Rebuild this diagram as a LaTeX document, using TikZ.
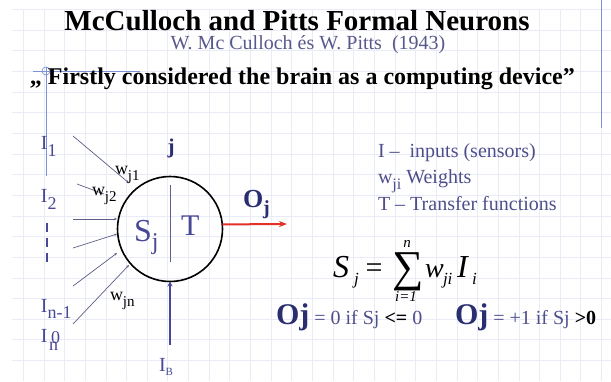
\documentclass[tikz,border=0pt]{standalone}
\usepackage{fontspec}
\setmainfont{Liberation Serif}
\usetikzlibrary{arrows.meta}
\definecolor{navy}{RGB}{42,46,112}
\definecolor{txtblue}{RGB}{78,78,140}
\definecolor{lblblue}{RGB}{72,72,150}
\definecolor{wireclr}{RGB}{95,95,135}
\definecolor{arrred}{RGB}{228,48,40}
\definecolor{gridclr}{RGB}{233,235,247}
\definecolor{marginclr}{RGB}{125,145,215}
\definecolor{subgray}{RGB}{88,88,140}
\newcommand{\fs}[1]{\fontsize{#1}{#1}\selectfont}
\newcommand{\lowsub}[3]{\raisebox{-#1}{\fs{#2}#3}}
\begin{document}
\begin{tikzpicture}[x=1pt,y=-1pt,
  every node/.style={inner sep=0pt,outer sep=0pt},
  gridline/.style={draw=gridclr,line width=0.9pt},
  marginline/.style={draw=marginclr,line width=0.7pt},
  wire/.style={draw=wireclr,line width=0.7pt,-{Stealth[length=3pt,width=2.5pt]}},
  lbl/.style={text=lblblue,font=\fs{20}},
  wlbl/.style={text=black,font=\fs{18}},
  info/.style={text=txtblue,font=\fs{20},anchor=base west}]
\useasboundingbox (0,0) rectangle (611,381);
\fill[white] (0,0) rectangle (611,381);
% background grid
\foreach \k in {1,...,29} \draw[gridline] ({2.7+20.65*\k},10) -- ({2.7+20.65*\k},381);
\foreach \k in {0,...,17} \draw[gridline] (12,{9.5+20.65*\k}) -- (611,{9.5+20.65*\k});
% slide margin lines
\coordinate (mtop) at (46,67);
\coordinate (mbot) at (46,176);
\coordinate (mleft) at (33,71);
\coordinate (mright) at (140,71);
\coordinate (rtop) at (601,0);
\coordinate (rbot) at (601,128);
\draw[marginline] (mtop) -- (mbot);
\draw[marginline] (mleft) -- (mright);
\draw[marginline] (46,71) circle (4);
\draw[marginline] (rtop) -- (rbot);
% titles
\node[anchor=base,font=\fs{29}\bfseries] (title) at (297,30) {McCulloch and Pitts Formal Neurons};
\node[anchor=base,font=\fs{20},text=subgray] (subtitle) at (308,49) {W. Mc Culloch és W. Pitts\ \ (1943)};
\node[anchor=base west,font=\fs{24}\bfseries] (quote) at (30,84) {„ Firstly considered the brain as a computing device”};
% neuron
\node[circle,draw=black,line width=1.6pt,minimum size=105pt] (neuron) at (170,229) {};
\coordinate (divtop) at (170,185);
\coordinate (divbot) at (170,262);
\draw[draw=wireclr,line width=0.6pt] (divtop) -- (divbot);
\node[anchor=base west,text=lblblue,font=\fs{32}] (sj) at (134,241) {S\lowsub{8pt}{24}{j}};
\node[anchor=base west,text=lblblue,font=\fs{30}] (tt) at (181,235) {T};
\node[anchor=base,text=navy,font=\fs{21}\bfseries] (jlbl) at (171,153) {j};
% inputs
\node[lbl,anchor=base west] (i1) at (41,149) {I\lowsub{7pt}{18}{1}};
\node[lbl,anchor=base west] (i2) at (41,202) {I\lowsub{7pt}{18}{2}};
\node[lbl,anchor=base west] (inm) at (41,312) {I\lowsub{6pt}{18}{n-1}};
\node[lbl,anchor=base west] (in) at (41,342) {I};
\node[lbl,anchor=base west,font=\fs{18}] (in0) at (51,343) {0};
\node[lbl,anchor=base west,font=\fs{18}] (inn) at (49,350) {n};
\coordinate (dtop) at (47,223);
\coordinate (dbot) at (47,267);
\draw[draw=lblblue,line width=2.6pt,dash pattern=on 9pt off 6pt] (dtop) -- (dbot);
\coordinate (w1s) at (73,136); \coordinate (w1e) at (129,183);
\coordinate (w2s) at (77,184); \coordinate (w2e) at (104,194);
\coordinate (w3s) at (73,219); \coordinate (w3e) at (117,219);
\coordinate (w4s) at (73,248); \coordinate (w4e) at (117,234);
\coordinate (w5s) at (73,286); \coordinate (w5e) at (117,253);
\coordinate (w6s) at (73,324); \coordinate (w6e) at (129,265);
\draw[wire] (w1s) -- (w1e);
\draw[draw=wireclr,line width=0.7pt] (w2s) -- (w2e);
\draw[wire] (w3s) -- (w3e);
\draw[wire] (w4s) -- (w4e);
\draw[wire] (w5s) -- (w5e);
\draw[wire] (w6s) -- (w6e);
\node[wlbl,anchor=base west] (wj1) at (115,174) {w\lowsub{6pt}{15}{j1}};
\node[wlbl,anchor=base west] (wj2) at (92,195) {w\lowsub{6pt}{15}{j2}};
\node[wlbl,anchor=base west] (wjn) at (110,300) {w\lowsub{6pt}{15}{jn}};
% output
\coordinate (oend) at (287,224);
\draw[draw=arrred,line width=2pt,-{Stealth[length=8pt,width=6pt]}] (neuron.5) -- (oend);
\node[anchor=base west,text=navy,font=\fs{26}\bfseries] (oj) at (243,207) {O\lowsub{7pt}{20}{j}};
% bias
\coordinate (ib) at (170,345);
\draw[draw=lblblue,line width=1.8pt,-{Stealth[length=5pt,width=5pt]}] (ib) -- (neuron.south);
\node[lbl,anchor=base west] (iblbl) at (159,371) {I\lowsub{4pt}{11}{B}};
% legend
\node[info] (leg1) at (378,157) {I –\ \ inputs (sensors)};
\node[info] (leg2) at (378,183) {w\lowsub{6pt}{16}{ji} Weights};
\node[info] (leg3) at (378,210) {T – Transfer functions};
% formula
\node[anchor=base west,font=\fs{32}\itshape] (fs) at (333,277) {S};
\node[anchor=base west,font=\fs{17}\itshape] (fsj) at (354,284) {j};
\node[anchor=base,font=\fs{30}] (feq) at (374,277) {=};
\node[anchor=base,font=\fs{44}] (fsum) at (408,281) {∑};
\node[anchor=base,font=\fs{15}\itshape] (fn) at (407,247) {n};
\node[anchor=base,font=\fs{15}\itshape] (fi1) at (406,301) {i=1};
\node[anchor=base west,font=\fs{28}\itshape] (fw) at (425,277) {w};
\node[anchor=base west,font=\fs{17}\itshape] (fji) at (443,284) {ji};
\node[anchor=base west,font=\fs{32}\itshape] (fI) at (457,277) {I};
\node[anchor=base west,font=\fs{17}\itshape] (fIi) at (472,284) {i};
% output rule
\node[anchor=base west,text=txtblue,font=\fs{20}] (rule1) at (276,324) {{\color{navy}\fs{30}\bfseries Oj} = 0 if Sj {\color{black}\bfseries <=} 0};
\node[anchor=base west,text=txtblue,font=\fs{20}] (rule2) at (455,324) {{\color{navy}\fs{30}\bfseries Oj} = +1 if Sj {\color{black}\bfseries >0}};
\end{tikzpicture}
\end{document}
